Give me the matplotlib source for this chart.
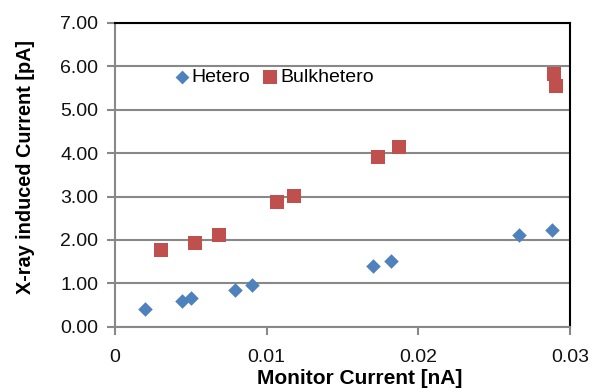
import matplotlib
matplotlib.use("Agg")
import matplotlib.pyplot as plt
from matplotlib.ticker import FixedLocator, FuncFormatter

plt.rcParams['font.family'] = ['Liberation Sans', 'DejaVu Sans']

hetero_x = [0.00198, 0.00444, 0.00499, 0.00791, 0.00901, 0.01699, 0.01817, 0.02663, 0.02881]
hetero_y = [0.41, 0.60, 0.66, 0.84, 0.96, 1.39, 1.52, 2.11, 2.22]
bulk_x = [0.00301, 0.00529, 0.00688, 0.01068, 0.01178, 0.01732, 0.01872, 0.02894, 0.02905]
bulk_y = [1.76, 1.93, 2.12, 2.88, 3.01, 3.90, 4.15, 5.83, 5.54]
x_ticks = [0, 0.01, 0.02, 0.03]
x_tick_labels = ["0", "0.01", "0.02", "0.03"]
y_ticks = [0, 1, 2, 3, 4, 5, 6, 7]

fig = plt.figure(figsize=(5.93, 3.89), dpi=100)
ax = fig.add_axes([115/593, 1-326.7/389, 455/593, 303.7/389])

ax.scatter(hetero_x, hetero_y, marker='D', s=55, color='#4F81BD', label='Hetero', zorder=3, linewidths=0)
ax.scatter(bulk_x, bulk_y, marker='s', s=100, color='#C0504D', label='Bulkhetero', zorder=3, linewidths=0)

ax.set_xlim(0, 0.03)
ax.set_ylim(0, 7)
ax.xaxis.set_major_locator(FixedLocator(x_ticks))
ax.set_xticklabels(x_tick_labels)
ax.yaxis.set_major_locator(FixedLocator(y_ticks))
ax.yaxis.set_major_formatter(FuncFormatter(lambda v, p: f"{v:.2f}"))

ax.grid(axis='y', color='#888888', linewidth=1.5, zorder=0)
for s in ['left', 'bottom']:
    ax.spines[s].set_color('#888888')
    ax.spines[s].set_linewidth(1.5)
for s in ['top', 'right']:
    ax.spines[s].set_color('black')
    ax.spines[s].set_linewidth(1.5)
ax.tick_params(axis='both', direction='out', length=6, width=1.5, labelsize=14,
               color='#888888', labelcolor='#111111')
ax.tick_params(axis='x', pad=10)
ax.tick_params(axis='y', pad=6)

ax.set_xlabel('Monitor Current [nA]', fontsize=15, fontweight='bold', labelpad=2, x=0.537)
ax.set_ylabel('X-ray induced Current [pA]', fontsize=14.3, fontweight='bold', labelpad=18, y=0.527)

ax.legend(loc='center left', bbox_to_anchor=(0.112, 0.822), ncol=2, frameon=False,
          handlelength=0.6, handletextpad=0.2, columnspacing=0.75, borderpad=0,
          fontsize=14, markerscale=0.95)

fig.savefig('out.png', dpi=100)
